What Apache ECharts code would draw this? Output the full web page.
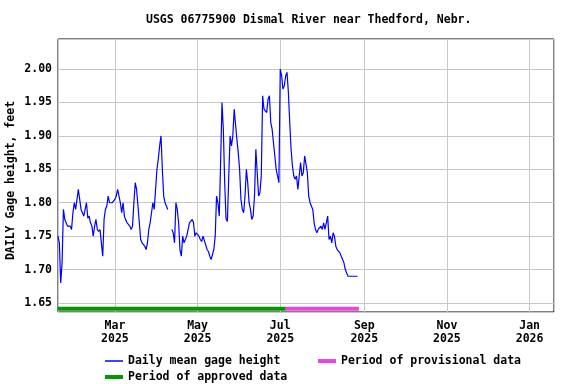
<!DOCTYPE html>
<html>
<head>
<meta charset="utf-8">
<script src="https://cdn.jsdelivr.net/npm/echarts@6/dist/echarts.min.js"></script>
<style>
html,body{margin:0;padding:0;background:#fff;}
#chart{width:576px;height:384px;}
</style>
</head>
<body>
<div id="chart"></div>
<script>
// ---- Data ----
const titleText = 'USGS 06775900 Dismal River near Thedford, Nebr.';
const yAxisName = 'DAILY Gage height, feet';
const startDate = [2025, 0, 18]; // first daily value: 2025-01-18
const gageHeight = [
  1.75, 1.74, 1.68, 1.71, 1.79, 1.775, 1.77, 1.765, 1.765, 1.765,
  1.76, 1.785, 1.80, 1.79, 1.805, 1.82, 1.82, 1.79, 1.79, 1.78,
  1.79, 1.80, 1.777, 1.78, 1.77, 1.765, 1.75, 1.765, 1.775, 1.76,
  1.757, 1.76, 1.74, 1.72, 1.775, 1.79, 1.795, 1.81, 1.80, 1.80,
  1.80, 1.80, 1.805, 1.81, 1.82, 1.81, 1.80, 1.785, 1.80, 1.78,
  1.774, 1.77, 1.77, 1.765, 1.76, 1.765, 1.80, 1.83, 1.82, 1.795,
  1.77, 1.745, 1.74, 1.74, 1.735, 1.73, 1.74, 1.76, 1.77, 1.785,
  1.80, 1.79, 1.82, 1.85, 1.865, 1.885, 1.90, 1.85, 1.81, 1.80,
  1.80, 1.79, null, null, 1.76, 1.755, 1.74, 1.80, 1.79, 1.77,
  1.73, 1.72, 1.75, 1.74, 1.74, 1.75, 1.76, 1.77, 1.77, 1.775,
  1.77, 1.75, 1.755, 1.755, 1.75, 1.745, 1.742, 1.75, 1.748, 1.737,
  1.73, 1.727, 1.72, 1.715, 1.715, 1.73, 1.75, 1.81, 1.80, 1.78,
  1.86, 1.95, 1.91, 1.83, 1.776, 1.772, 1.84, 1.90, 1.885, 1.90,
  1.94, 1.94, 1.895, 1.875, 1.85, 1.805, 1.79, 1.785, 1.81, 1.85,
  1.83, 1.80, 1.79, 1.775, 1.78, 1.81, 1.88, 1.88, 1.81, 1.815,
  1.84, 1.96, 1.94, 1.94, 1.935, 1.955, 1.96, 1.92, 1.91, 1.91,
  1.87, 1.85, 1.84, 1.83, 2.00, 1.99, 1.97, 1.975, 1.99, 1.995,
  1.965, 1.92, 1.88, 1.855, 1.84, 1.835, 1.84, 1.82, 1.84, 1.86,
  1.84, 1.845, 1.87, 1.87, 1.845, 1.81, 1.80, 1.80, 1.79, 1.77,
  1.76, 1.755, 1.76, 1.76, 1.765, 1.76, 1.77, 1.76, 1.77, 1.78,
  1.745, 1.75, 1.74, 1.755, 1.75, 1.735, 1.73, 1.73, 1.725, 1.72,
  1.715, 1.71, 1.70, 1.695, 1.69, 1.69, 1.69, 1.69, 1.69, 1.69,
  1.69, 1.69
];
const approvedPeriod = [[2025, 0, 18], [2025, 6, 5]];
const provisionalPeriod = [[2025, 6, 5], [2025, 7, 28]];
const periodLevel = 1.6415;
const xRange = [[2025, 0, 18], [2026, 0, 19]];
const yRange = [1.6365, 2.045];
const monthNames = ['Jan','Feb','Mar','Apr','May','Jun','Jul','Aug','Sep','Oct','Nov','Dec'];
const seriesNames = ['Daily mean gage height', 'Period of provisional data', 'Period of approved data'];

// ---- Build ----
const toDate = a => new Date(a[0], a[1], a[2]);
const dailyData = gageHeight.map((v, i) => [new Date(startDate[0], startDate[1], startDate[2] + i), v]);
const periodData = p => p.map(d => [toDate(d), periodLevel]);

const font = 'DejaVu Sans Mono';
const txt = {fontFamily: font, fontWeight: 'bold', fontSize: 11.5, color: '#000'};

const chart = echarts.init(document.getElementById('chart'), null, {renderer: 'canvas'});
chart.setOption({
  animation: false,
  backgroundColor: '#fff',
  title: {
    text: titleText, left: 141, top: 9,
    textStyle: Object.assign({}, txt)
  },
  grid: {left: 58, right: 22, top: 39, bottom: 72, show: true, borderColor: '#000', borderWidth: 1,
         backgroundColor: 'transparent', containLabel: false, outerBoundsMode: 'none'},
  legend: [
    {data: [seriesNames[0]], left: 100, top: 350, icon: 'rect', itemWidth: 18, itemHeight: 1.5, textStyle: txt, selectedMode: false},
    {data: [seriesNames[1]], left: 313, top: 350, icon: 'rect', itemWidth: 18, itemHeight: 4, textStyle: txt, selectedMode: false},
    {data: [seriesNames[2]], left: 100, top: 366, icon: 'rect', itemWidth: 18, itemHeight: 4, textStyle: txt, selectedMode: false}
  ],
  xAxis: {
    type: 'time',
    min: toDate(xRange[0]).getTime(),
    max: toDate(xRange[1]).getTime(),
    splitNumber: 5,
    axisLine: {show: false},
    axisTick: {show: false},
    splitLine: {show: true, lineStyle: {color: '#c8c8c8', width: 1}},
    axisLabel: {
      show: true, margin: 8, lineHeight: 13,
      fontFamily: font, fontWeight: 'bold', fontSize: 11.5, color: '#000',
      hideOverlap: false,
      formatter: function (v) {
        const d = new Date(v);
        return monthNames[d.getMonth()] + '\n' + d.getFullYear();
      }
    }
  },
  yAxis: {
    type: 'value',
    min: yRange[0], max: yRange[1],
    splitNumber: 8,
    name: yAxisName, nameLocation: 'middle', nameGap: 41, nameRotate: 90,
    nameMoveOverlap: false,
    nameTextStyle: Object.assign({}, txt, {padding: [0, 10, 0, 0]}),
    axisLine: {show: false},
    axisTick: {show: false},
    splitLine: {show: true, lineStyle: {color: '#c8c8c8', width: 1}},
    axisLabel: {
      margin: 6, fontFamily: font, fontWeight: 'bold', fontSize: 11.5, color: '#000',
      formatter: function (v) {
        if (Math.abs(v * 20 - Math.round(v * 20)) > 1e-6) return '';
        return v.toFixed(2);
      }
    }
  },
  series: [
    {
      name: seriesNames[0], type: 'line', data: dailyData, symbol: 'none', showSymbol: false,
      connectNulls: false, color: '#0000ff', lineStyle: {color: '#0000ff', width: 1.2}, z: 3
    },
    {
      name: seriesNames[1], type: 'line', data: periodData(provisionalPeriod), symbol: 'none',
      color: '#ee44dd', lineStyle: {color: '#ee44dd', width: 4, cap: 'butt'}, z: 2
    },
    {
      name: seriesNames[2], type: 'line', data: periodData(approvedPeriod), symbol: 'none',
      color: '#009900', lineStyle: {color: '#009900', width: 4, cap: 'butt'}, z: 2
    }
  ]
});
</script>
</body>
</html>
